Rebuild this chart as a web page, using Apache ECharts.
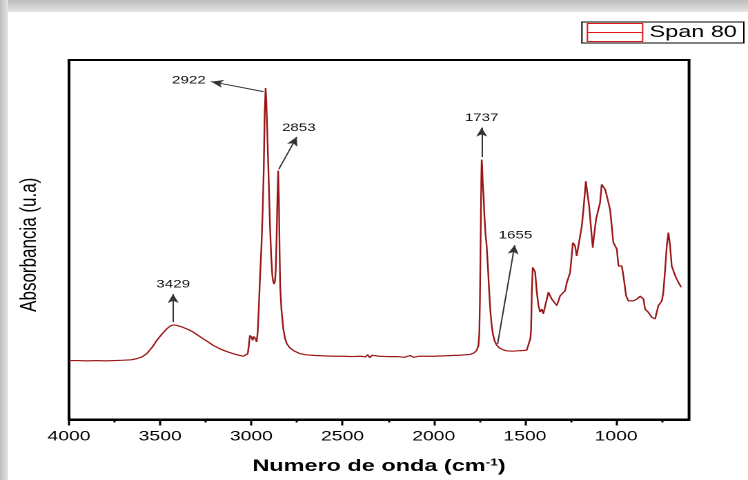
<!DOCTYPE html>
<html>
<head>
<meta charset="utf-8">
<script src="https://cdn.jsdelivr.net/npm/echarts@6/dist/echarts.min.js"></script>
<style>
  html, body { margin: 0; padding: 0; width: 748px; height: 480px; overflow: hidden; background: #fff; }
  #edgeTop { position: absolute; left: 0; top: 0; width: 748px; height: 12px;
             background: linear-gradient(to bottom, #bdbdbd, #e4e4e4); }
  #edgeLeft { position: absolute; left: 0; top: 0; width: 8px; height: 480px;
              background: linear-gradient(to right, #bdbdbd, #e4e4e4); }
  /* plot is laid out narrow and widened horizontally, like the exported figure */
  #chart { position: absolute; left: 0; top: 0; width: 542px; height: 480px;
           transform: scaleX(1.38); transform-origin: 0 0; }
</style>
</head>
<body>
<div id="edgeTop"></div>
<div id="edgeLeft"></div>
<div id="chart"></div>
<script>
// FTIR spectrum of Span 80: wavenumber (cm-1) and absorbance (arbitrary units)
const wavenumber = [
  4000, 3950, 3900, 3850, 3800, 3750, 3700, 3660, 3630, 3600,
  3574, 3545, 3519, 3490, 3464, 3445, 3429, 3410, 3390, 3373,
  3345, 3318, 3290, 3263, 3235, 3209, 3170, 3135, 3100, 3070,
  3045, 3030, 3020, 3014, 3008, 3004, 2998, 2993, 2988, 2984,
  2978, 2971, 2965, 2960, 2953, 2945, 2938, 2932, 2927, 2922,
  2918, 2914, 2910, 2904, 2898, 2891, 2885, 2880, 2875, 2870,
  2866, 2861, 2857, 2853, 2849, 2845, 2842, 2835, 2825, 2815,
  2806, 2790, 2770, 2750, 2733, 2700, 2650, 2600, 2550, 2500,
  2450, 2400, 2375, 2362, 2350, 2338, 2325, 2300, 2250, 2200,
  2160, 2130, 2110, 2080, 2050, 2000, 1950, 1900, 1850, 1800,
  1780, 1765, 1755, 1750, 1747, 1744, 1741, 1739, 1737, 1735,
  1731, 1727, 1722, 1716, 1710, 1703, 1697, 1690, 1683, 1675,
  1665, 1655, 1640, 1620, 1600, 1570, 1540, 1510, 1490, 1478,
  1470, 1466, 1462, 1457, 1444, 1435, 1426, 1417, 1407, 1399,
  1384, 1371, 1353, 1325, 1307, 1280, 1270, 1252, 1237, 1225,
  1216, 1201, 1188, 1179, 1166, 1155, 1148, 1137, 1128, 1121,
  1110, 1097, 1088, 1079, 1060, 1046, 1033, 1024, 1015, 996,
  987, 969, 960, 945, 933, 905, 886, 868, 850, 841,
  823, 804, 786, 768, 749, 741, 731, 722, 713, 704,
  695, 676, 658, 643
];
const absorbance = [
  16.4, 16.4, 16.3, 16.4, 16.3, 16.4, 16.5, 16.6, 16.9, 17.4,
  18.3, 20.0, 22.0, 23.8, 25.2, 26.0, 26.3, 26.2, 25.9, 25.6,
  25.0, 24.3, 23.3, 22.4, 21.5, 20.6, 19.6, 18.9, 18.3, 17.9,
  17.6, 17.6, 18.3, 20.5, 23.4, 23.8, 22.8, 22.0, 23.1, 23.4,
  22.5, 21.6, 24.5, 29.9, 39.1, 48.0, 58.0, 70.0, 84.8, 92.2,
  88.5, 82.0, 75.1, 65.0, 54.0, 45.0, 40.0, 38.3, 37.7, 38.6,
  42.0, 52.0, 62.0, 69.2, 61.0, 46.0, 37.0, 30.5, 25.2, 22.5,
  21.1, 20.0, 19.2, 18.7, 18.3, 18.0, 17.8, 17.7, 17.6, 17.6,
  17.5, 17.6, 17.4, 18.0, 17.2, 17.9, 17.4, 17.6, 17.5, 17.5,
  17.3, 17.8, 17.3, 17.6, 17.6, 17.6, 17.7, 17.8, 17.9, 18.1,
  18.5, 19.2, 20.5, 24.0, 32.0, 45.0, 58.0, 67.0, 72.3, 71.0,
  65.5, 62.5, 56.5, 51.5, 48.5, 42.5, 36.5, 30.5, 26.5, 23.6,
  21.7, 20.7, 19.9, 19.4, 19.1, 19.0, 19.1, 19.2, 19.3, 19.8,
  22.5, 25.2, 36.0, 42.3, 41.0, 35.5, 31.7, 29.9, 30.7, 29.4,
  29.9, 35.4, 33.5, 31.7, 34.4, 35.8, 38.1, 40.9, 49.2, 48.3,
  45.5, 46.0, 53.8, 58.4, 66.3, 65.8, 59.4, 52.9, 47.8, 51.1,
  55.7, 55.7, 60.3, 65.4, 64.0, 61.2, 58.4, 53.8, 49.2, 47.4,
  42.7, 42.7, 40.0, 34.4, 33.0, 33.0, 33.5, 34.3, 33.5, 30.7,
  29.8, 28.4, 28.0, 31.7, 33.0, 35.4, 41.8, 48.3, 52.0, 48.3,
  42.7, 40.0, 38.1, 36.8
];

// x axis tick values
const majorTicks = [1000, 1500, 2000, 2500, 3000, 3500, 4000];
const minorTicks = [750, 1250, 1750, 2250, 2750, 3250, 3750];

// annotated bands: label, arrow start (on the band) and arrow tip
const peakLabels = ['3429', '2922', '2853', '1737', '1655'];
const arrowFrom = [[3429, 27.1], [2934, 91.2], [2850, 69.6], [1737, 73.0], [1650, 21.0]];
const arrowTo   = [[3429, 34.9], [3221, 94.0], [2751, 78.6], [1737, 81.2], [1556, 48.5]];

const FONT = "'Liberation Sans', Arial, sans-serif";

const spectrum = wavenumber.map((w, i) => [w, absorbance[i]]);
const arrows = peakLabels.map((name, i) => [
  { name: name, coord: arrowFrom[i] },
  { coord: arrowTo[i] }
]);

const chart = echarts.init(document.getElementById('chart'), null, { renderer: 'canvas', devicePixelRatio: 2 });
chart.setOption({
  animation: false,
  backgroundColor: 'transparent',
  grid: {
    left: 50, right: 42.7, top: 60, bottom: 59,
    show: true, borderColor: '#000', borderWidth: 2, backgroundColor: 'transparent'
  },
  legend: {
    right: 3, top: 22,
    padding: [1, 5, 1, 3.5],
    borderColor: '#000', borderWidth: 1, borderRadius: 0,
    backgroundColor: '#fff',
    itemWidth: 40, itemHeight: 18,
    icon: 'path://M0,0H40V18H0Z M0,9H40',
    itemStyle: { color: 'rgba(0,0,0,0)', borderColor: '#e01a1a', borderWidth: 1 },
    textStyle: { fontFamily: FONT, fontSize: 17, color: '#000' },
    data: ['Span 80']
  },
  xAxis: [{
    type: 'value', inverse: true, min: 600, max: 4000, position: 'bottom',
    name: 'Numero de onda (cm{sup|-1})', nameLocation: 'middle', nameGap: 38,
    nameTextStyle: {
      fontFamily: FONT, fontSize: 17, fontWeight: 'bold', color: '#000',
      rich: { sup: { fontFamily: FONT, fontSize: 10, fontWeight: 'bold', color: '#000', verticalAlign: 'top', padding: [0, 0, 8, 0] } }
    },
    axisLine: { show: true, onZero: false, lineStyle: { color: '#000', width: 2 } },
    axisTick: { show: true, customValues: majorTicks, length: 6, lineStyle: { color: '#000', width: 1.5 } },
    axisLabel: {
      customValues: majorTicks, margin: 10, fontFamily: FONT, fontSize: 14, color: '#000',
      formatter: (v) => String(v)
    },
    splitLine: { show: false }
  }, {
    type: 'value', inverse: true, min: 600, max: 4000, position: 'bottom',
    axisLine: { show: false, onZero: false },
    axisTick: { show: true, customValues: minorTicks, length: 3, lineStyle: { color: '#000', width: 1.5 } },
    axisLabel: { show: false },
    splitLine: { show: false }
  }],
  yAxis: {
    type: 'value', min: 0, max: 100,
    name: 'Absorbancia (u.a)', nameLocation: 'middle', nameGap: 20,
    nameTextStyle: { fontFamily: FONT, fontSize: 17, color: '#000', padding: [0, 10, 0, 0] },
    axisLine: { show: true, lineStyle: { color: '#000', width: 2 } },
    axisTick: { show: false },
    axisLabel: { show: false },
    splitLine: { show: false }
  },
  series: [{
    name: 'Span 80',
    type: 'line',
    data: spectrum,
    showSymbol: false,
    symbol: 'none',
    lineStyle: { color: '#9a1616', width: 1.2 },
    itemStyle: { color: '#9a1616' },
    markLine: {
      silent: true,
      symbol: ['none', 'arrow'],
      symbolSize: [6, 9],
      lineStyle: { color: '#333', width: 1, type: 'solid' },
      label: { show: true, position: 'end', formatter: '{b}', distance: 4, fontFamily: FONT, fontSize: 11, color: '#111' },
      data: arrows
    }
  }]
});
</script>
</body>
</html>
